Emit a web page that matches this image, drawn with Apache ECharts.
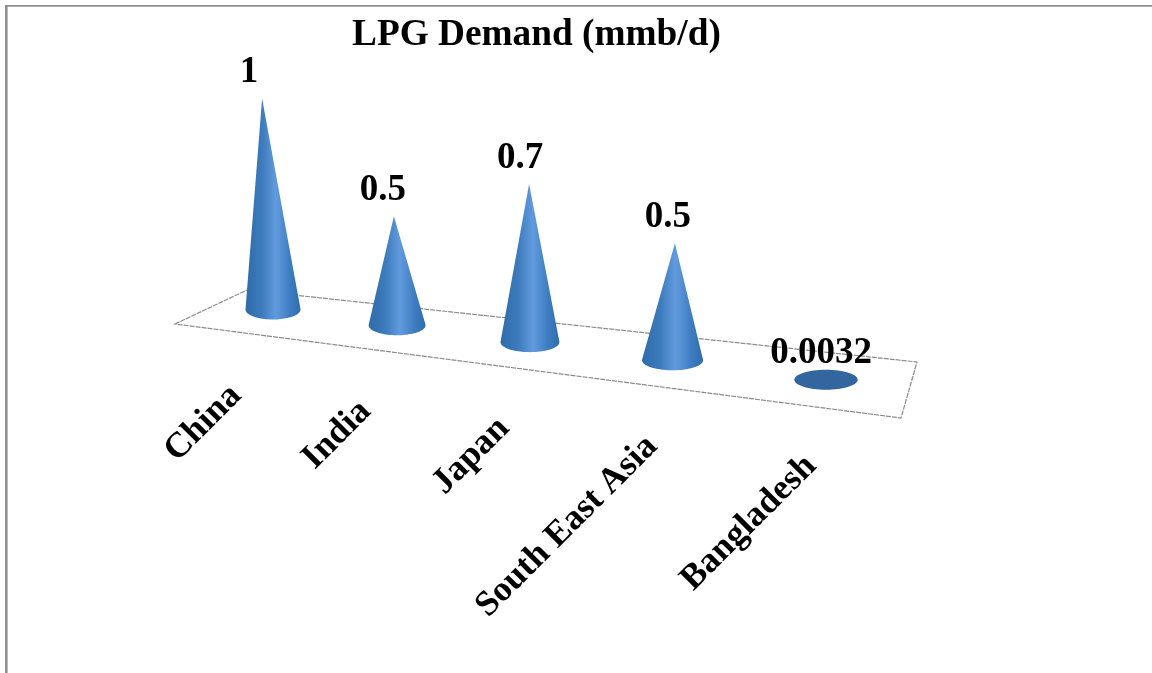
<!DOCTYPE html>
<html>
<head>
<meta charset="utf-8">
<style>
  html, body { margin: 0; padding: 0; background: #fff; }
  #chart { width: 1152px; height: 673px; }
</style>
<script src="https://cdn.jsdelivr.net/npm/echarts@6/dist/echarts.min.js"></script>
</head>
<body>
<div id="chart"></div>
<script>
// LPG demand by market, million barrels per day
const categories = ['China', 'India', 'Japan', 'South East Asia', 'Bangladesh'];
const demand = [1, 0.5, 0.7, 0.5, 0.0032];
const demandLabels = ['1', '0.5', '0.7', '0.5', '0.0032'];
const chartTitle = 'LPG Demand (mmb/d)';

const VALUE_FONT = 'bold 37px "Liberation Serif", "Times New Roman", serif';
const CATEGORY_FONT = 'bold 35.5px "Liberation Serif", "Times New Roman", serif';

// Fake 3D view: the flat grid is pushed through one perspective divide.
const GRID_LEFT = 273, GRID_BOTTOM_Y = 309.5, STEP = 120;
const DEPTH = 0.033, FLOOR_SLOPE = 0.127, LEAN = 1.8e-4, VANISH_X = 560;

function divisor(px) {
  return 1 - DEPTH * (px - GRID_LEFT) / STEP;
}

const coneFill = {
  type: 'linear', x: 0, y: 0, x2: 1, y2: 0,
  colorStops: [
    { offset: 0, color: '#2f6ba8' },
    { offset: 0.3, color: '#3d7bbd' },
    { offset: 0.55, color: '#619bdd' },
    { offset: 0.8, color: '#3f7dc2' },
    { offset: 1, color: '#2f6cae' }
  ]
};

function renderCone(params, api) {
  const i = api.value(0);
  const value = api.value(1);
  const base = api.coord([i, 0]);
  const w = divisor(base[0]);
  const cx = GRID_LEFT + (base[0] - GRID_LEFT) / w;
  const cy = GRID_BOTTOM_Y + FLOOR_SLOPE * (cx - GRID_LEFT);
  const h = api.size([0, value])[1] / w;
  const rx = 27.5 / w;
  const ry = 10;
  const ax = cx + (cx - VANISH_X) * h * LEAN;
  const ay = cy - h;

  const children = [];

  // The side of the cone only shows once its tip clears the base ellipse.
  if (h > ry) {
    const nx = (ax - cx) / rx, ny = (ay - cy) / ry;
    const d = Math.hypot(nx, ny);
    const mid = Math.atan2(ny, nx);
    const spread = Math.acos(1 / d);
    const from = mid + spread, to = mid + 2 * Math.PI - spread;
    const points = [[ax, ay]];
    for (let s = 0; s <= 48; s++) {
      const t = from + (to - from) * s / 48;
      points.push([cx + rx * Math.cos(t), cy + ry * Math.sin(t)]);
    }
    children.push({ type: 'polygon', shape: { points }, style: { fill: coneFill } });
  } else {
    children.push({ type: 'ellipse', shape: { cx, cy, rx, ry }, style: { fill: '#33659f' } });
  }

  children.push({
    type: 'text',
    x: ax - 13 + 2 * i,
    y: ay - 26,
    style: {
      text: demandLabels[i], font: VALUE_FONT, fill: '#000',
      textAlign: 'center', textVerticalAlign: 'middle'
    }
  });
  children.push({
    type: 'text',
    x: cx - 37 + 5.5 * i,
    y: cy + 81,
    rotation: Math.PI / 4,
    style: {
      text: categories[i], font: CATEGORY_FONT, fill: '#000',
      textAlign: 'right', textVerticalAlign: 'middle'
    }
  });
  return { type: 'group', children };
}

const option = {
  animation: false,
  backgroundColor: '#fff',
  title: {
    text: chartTitle,
    left: 352,
    top: 17,
    padding: 0,
    textStyle: { fontFamily: '"Liberation Serif", serif', fontWeight: 'bold', fontSize: 37.3, color: '#000' }
  },
  grid: { left: GRID_LEFT, width: STEP * (categories.length - 1), top: 98.5, height: 211 },
  xAxis: { type: 'category', data: categories, boundaryGap: false, show: false },
  yAxis: { type: 'value', min: 0, max: 1, show: false },
  graphic: [
    { type: 'rect', shape: { x: 5, y: 5, width: 1147, height: 1.7 }, style: { fill: '#8f8f8f' } },
    { type: 'rect', shape: { x: 5, y: 5, width: 2.6, height: 668 }, style: { fill: '#8f8f8f' } },
    {
      type: 'polygon',
      shape: { points: [[175, 324], [247, 290], [917, 362], [901, 418]] },
      style: { fill: 'none', stroke: '#8c8c8c', lineWidth: 1.2, lineDash: [5, 1] }
    }
  ],
  series: [{
    type: 'custom',
    coordinateSystem: 'cartesian2d',
    renderItem: renderCone,
    encode: { x: 0, y: 1 },
    data: demand.map((v, i) => [i, v]),
    silent: true
  }]
};

const chart = echarts.init(document.getElementById('chart'));
chart.setOption(option);
</script>
</body>
</html>
